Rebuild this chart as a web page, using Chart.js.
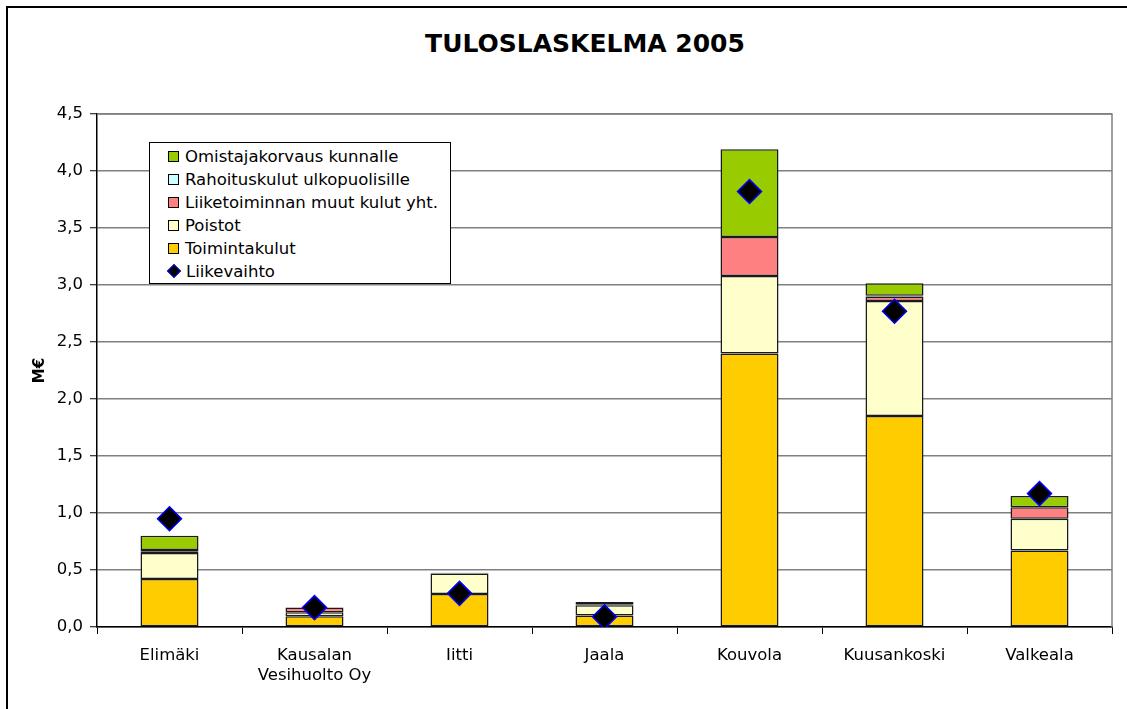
<!DOCTYPE html>
<html>
<head>
<meta charset="utf-8">
<script src="https://cdn.jsdelivr.net/npm/chart.js@4"></script>
<style>
  html, body { margin: 0; padding: 0; background: #fff; overflow: hidden; }
  #wrap { position: relative; width: 1127px; height: 709px; overflow: hidden; font-family: "DejaVu Sans", sans-serif; }
  #frame { position: absolute; left: 6px; top: 6px; width: 1300px; height: 900px; border: 2px solid #000; }
  #title { position: absolute; left: 0; width: 1170px; top: 29px; text-align: center; font-weight: bold; font-size: 25px; color: #000; }
  #chart { position: absolute; left: 0; top: 0; }
  #legend { position: absolute; left: 149px; top: 142px; height: 142px; border: 1px solid #000; background: #fff; box-sizing: border-box; padding: 2px 12px 0 18px; }
  .row { height: 23px; line-height: 23px; font-size: 16.5px; color: #000; white-space: nowrap; }
  .box { display: inline-block; width: 9px; height: 9px; border: 1px solid #000; margin-right: 6px; vertical-align: 0px; }
  .dia { display: inline-block; width: 8px; height: 8px; background: #000; border: 1.5px solid #0000ff; transform: rotate(45deg); margin: 0 7px 0 1px; vertical-align: 1px; }
</style>
</head>
<body>
<div id="wrap">
  <div id="frame"></div>
  <div id="title">TULOSLASKELMA 2005</div>
  <canvas id="chart" width="1127" height="709"></canvas>
  <div id="legend"></div>
</div>
<script>
// ================= data =================
const categories = ["Elimäki", ["Kausalan", "Vesihuolto Oy"], "Iitti", "Jaala", "Kouvola", "Kuusankoski", "Valkeala"];

const toimintakulut   = [0.42, 0.095, 0.29, 0.10, 2.40, 1.85, 0.67];
const poistot         = [0.23, 0.035, 0.18, 0.09, 0.68, 1.01, 0.28];
const liiketoiminnan  = [0.015, 0.04, 0.005, 0.005, 0.34, 0.04, 0.10];
const rahoituskulut   = [0.01, 0.0, 0.0, 0.0, 0.0, 0.005, 0.0];
const omistajakorvaus = [0.125, 0.0, 0.0, 0.025, 0.77, 0.11, 0.10];
const liikevaihto     = [0.95, 0.17, 0.295, 0.09, 3.82, 2.77, 1.17];

const yTicks = [0, 0.5, 1, 1.5, 2, 2.5, 3, 3.5, 4, 4.5];

// ================= series =================
const barSeries = [
  { label: "Toimintakulut", data: toimintakulut, color: "#FFCC00" },
  { label: "Poistot", data: poistot, color: "#FFFFCC" },
  { label: "Liiketoiminnan muut kulut yht.", data: liiketoiminnan, color: "#FF8080" },
  { label: "Rahoituskulut ulkopuolisille", data: rahoituskulut, color: "#CCFFFF" },
  { label: "Omistajakorvaus kunnalle", data: omistajakorvaus, color: "#99CC00" },
];

const datasets = [
  {
    type: "line",
    label: "Liikevaihto",
    data: liikevaihto,
    stack: "lv",
    showLine: false,
    pointStyle: "rectRot",
    pointRadius: 12,
    pointBackgroundColor: "#000",
    pointBorderColor: "#0000FF",
    pointBorderWidth: 1.5,
    order: 0
  },
  ...barSeries.map(s => ({
    type: "bar",
    label: s.label,
    data: s.data,
    stack: "k",
    backgroundColor: s.color,
    borderColor: "#1a1a1a",
    borderWidth: 1.5,
    borderSkipped: false,
    categoryPercentage: 1,
    barPercentage: 0.4,
    order: 1
  }))
];

// ================= legend (HTML) =================
const legend = document.getElementById("legend");
[...barSeries].reverse().forEach(s => {
  legend.innerHTML += `<div class="row"><span class="box" style="background:${s.color}"></span>${s.label}</div>`;
});
legend.innerHTML += `<div class="row"><span class="dia"></span>Liikevaihto</div>`;

// plot-area frame (top/right gray lines)
const frame = {
  id: "frame",
  beforeDatasetsDraw(chart) {
    const { ctx, chartArea: a } = chart;
    ctx.save();
    ctx.strokeStyle = "#808080";
    ctx.lineWidth = 1.5;
    ctx.beginPath();
    ctx.moveTo(a.left, a.top);
    ctx.lineTo(a.right, a.top);
    ctx.lineTo(a.right, a.bottom);
    ctx.stroke();
    ctx.restore();
  }
};

const FONT = "'DejaVu Sans', sans-serif";

new Chart(document.getElementById("chart"), {
  data: { labels: categories, datasets },
  plugins: [frame],
  options: {
    responsive: false,
    animation: false,
    layout: { padding: { left: 31, right: 15, top: 114, bottom: 0 } },
    plugins: { legend: { display: false }, title: { display: false }, tooltip: { enabled: false } },
    scales: {
      x: {
        stacked: true,
        grid: { offset: true, drawOnChartArea: false, tickLength: 7, tickColor: "#000", tickWidth: 1 },
        border: { color: "#000", width: 1.5 },
        ticks: { color: "#000", font: { family: FONT, size: 16.5, lineHeight: 1.2 }, padding: 12, maxRotation: 0, autoSkip: false },
        afterFit: s => { s.height = 709 - 627; }
      },
      y: {
        stacked: true,
        min: 0,
        max: 4.5,
        afterBuildTicks: s => { s.ticks = yTicks.map(v => ({ value: v })); },
        grid: { color: "#808080", lineWidth: 1.5, tickLength: 7, tickColor: "#000", tickWidth: 1 },
        border: { color: "#000", width: 1.5 },
        ticks: {
          color: "#000",
          font: { family: FONT, size: 16.5 },
          padding: 7,
          callback: v => v.toFixed(1).replace(".", ",")
        },
        title: { display: true, text: "M€", color: "#000", font: { family: FONT, size: 15, weight: "bold" }, padding: 0 },
        afterFit: s => { s.width = 97 - 31; }
      }
    }
  }
});
</script>
</body>
</html>
